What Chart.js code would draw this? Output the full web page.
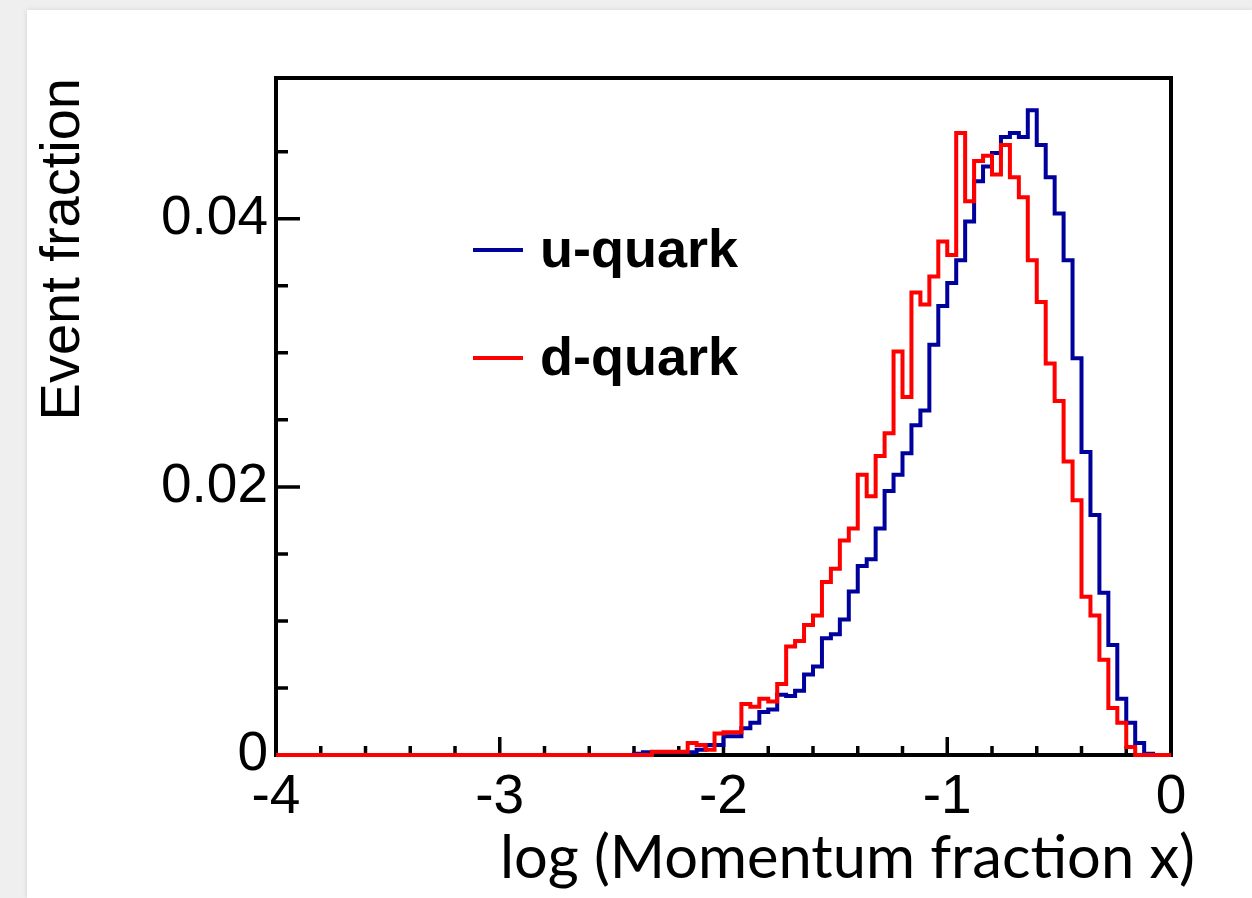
<!DOCTYPE html>
<html>
<head>
<meta charset="utf-8">
<script src="https://cdn.jsdelivr.net/npm/chart.js@4.4.1/dist/chart.umd.min.js"></script>
<style>
  html, body { margin: 0; padding: 0; background: #efefef; }
  #panel { position: absolute; left: 27px; top: 10px; right: 0; bottom: 0; background: #fff; box-shadow: 0 0 5px rgba(0,0,0,0.12); }
  #wrap { position: absolute; left: 0; top: 0; width: 1252px; height: 898px; }
</style>
</head>
<body>
<div id="panel"></div>
<div id="wrap"><canvas id="histo" width="1252" height="898"></canvas></div>
<script>
// histogram binning: 100 bins of log10(x) from -4 to 0
const binLow = -4;
const binWidth = 0.04;

// event fraction per bin
const uQuark = [
  0, 0, 0, 0, 0, 0, 0, 0, 0, 0,
  0, 0, 0, 0, 0, 0, 0, 0, 0, 0,
  0, 0, 0, 0, 0, 0, 0, 0, 0, 0,
  0, 0, 0, 0, 0, 0, 0, 0, 0, 0,
  0, 0.0001, 0.0002, 0.0002, 0.0002, 0.0002, 0.0002, 0.0002, 0.0004, 0.00075,
  0.00075, 0.0014, 0.0014, 0.002, 0.0024, 0.0032, 0.0034, 0.0045, 0.0044, 0.0048,
  0.006, 0.0066, 0.0087, 0.009, 0.0101, 0.0122, 0.0141, 0.0146, 0.0169, 0.0197,
  0.0209, 0.0225, 0.0246, 0.0257, 0.0306, 0.0335, 0.0352, 0.0369, 0.0398, 0.0428,
  0.0439, 0.0449, 0.0461, 0.0464, 0.0461, 0.0481, 0.0455, 0.0431, 0.0404, 0.0369,
  0.0296, 0.0226, 0.0179, 0.0121, 0.0082, 0.0042, 0.0024, 0.0009, 0.0001, 0
];
const dQuark = [
  0, 0, 0, 0, 0, 0, 0, 0, 0, 0,
  0, 0, 0, 0, 0, 0, 0, 0, 0, 0,
  0, 0, 0, 0, 0, 0, 0, 0, 0, 0,
  0, 0, 0, 0, 0, 0, 0, 0, 0, 0,
  0, 0, 0, 0.00025, 0.00025, 0.00025, 0.00025, 0.0009, 0.00075, 0.0004,
  0.0016, 0.0017, 0.0017, 0.0038, 0.0036, 0.0042, 0.004, 0.0053, 0.0081, 0.0085,
  0.0097, 0.0104, 0.0129, 0.0139, 0.016, 0.0169, 0.0209, 0.0193, 0.0223, 0.024,
  0.0301, 0.0267, 0.0345, 0.0336, 0.0357, 0.0383, 0.0373, 0.0464, 0.0413, 0.0443,
  0.0447, 0.0433, 0.0455, 0.0431, 0.0416, 0.0369, 0.0338, 0.0292, 0.0264, 0.0219,
  0.019, 0.0118, 0.0104, 0.0071, 0.0035, 0.0024, 0.0006, 0, 0, 0
];

// labelled ticks
const xMajor = [-4, -3, -2, -1, 0];
const xMajorLabels = ['-4', '-3', '-2', '-1', '0'];
const yMajor = [0, 0.02, 0.04];
const yMajorLabels = ['0', '0.02', '0.04'];

function toSteps(values) {
  const pts = values.map((v, i) => ({ x: binLow + i * binWidth, y: v }));
  pts.push({ x: binLow + values.length * binWidth, y: values[values.length - 1] });
  return pts;
}

function majorIndex(list, v) {
  return list.findIndex(m => Math.abs(m - v) < 1e-6);
}

Chart.defaults.font.family = '"Liberation Sans", Arial, sans-serif';
Chart.defaults.color = '#000';

// frame and inward tick marks, ROOT style
const frameTicks = {
  id: 'frameTicks',
  beforeDatasetsDraw(chart) {
    const { ctx, chartArea: a, scales: { x, y } } = chart;
    ctx.save();
    ctx.strokeStyle = '#000';
    ctx.lineWidth = 3.5;
    ctx.beginPath();
    x.ticks.forEach(t => {
      if (t.value < x.min - 1e-6 || t.value > x.max + 1e-6) return;
      const px = x.getPixelForValue(t.value);
      const len = majorIndex(xMajor, t.value) >= 0 ? 18 : 9;
      ctx.moveTo(px, a.bottom);
      ctx.lineTo(px, a.bottom - len);
    });
    y.ticks.forEach(t => {
      const r = t.value / 0.005;
      if (Math.abs(r - Math.round(r)) > 1e-6 || t.value > y.max) return;
      const py = y.getPixelForValue(t.value);
      const len = majorIndex(yMajor, t.value) >= 0 ? 24 : 12;
      ctx.moveTo(a.left, py);
      ctx.lineTo(a.left + len, py);
    });
    ctx.stroke();
    ctx.lineWidth = 4;
    ctx.strokeRect(a.left, a.top, a.width, a.height);
    ctx.restore();
  }
};

// legend inside the frame
const innerLegend = {
  id: 'innerLegend',
  afterDatasetsDraw(chart) {
    const { ctx, chartArea: a } = chart;
    ctx.save();
    ctx.font = 'bold 54px "Liberation Sans", Arial, sans-serif';
    ctx.textBaseline = 'middle';
    ctx.textAlign = 'left';
    const rows = [chart.data.datasets[0], chart.data.datasets[1]];
    rows.forEach((ds, i) => {
      const yy = a.top + 172 + i * 108;
      ctx.strokeStyle = ds.borderColor;
      ctx.lineWidth = 4;
      ctx.beginPath();
      ctx.moveTo(a.left + 197, yy);
      ctx.lineTo(a.left + 247, yy);
      ctx.stroke();
      ctx.fillStyle = '#000';
      ctx.fillText(ds.label, a.left + 264, yy + 2);
    });
    ctx.restore();
  }
};

// x axis title, right-aligned past the frame
const xTitle = {
  id: 'xTitle',
  afterDraw(chart) {
    const ctx = chart.ctx;
    const text = 'log (Momentum fraction x)';
    ctx.save();
    ctx.font = '56px Lato, "Open Sans", sans-serif';
    const w = ctx.measureText(text).width;
    const size = 56 * 695 / w;
    ctx.font = size.toFixed(1) + 'px Lato, "Open Sans", sans-serif';
    ctx.fillStyle = '#000';
    ctx.textAlign = 'right';
    ctx.textBaseline = 'alphabetic';
    ctx.fillText(text, 1195, 878);
    ctx.restore();
  }
};

new Chart(document.getElementById('histo'), {
  type: 'line',
  data: {
    datasets: [
      {
        label: 'u-quark',
        data: toSteps(uQuark),
        borderColor: '#00009c',
        borderWidth: 4,
        stepped: 'after',
        pointRadius: 0,
        fill: false,
        clip: false,
        order: 2
      },
      {
        label: 'd-quark',
        data: toSteps(dQuark),
        borderColor: '#ff0000',
        borderWidth: 4,
        stepped: 'after',
        pointRadius: 0,
        fill: false,
        clip: false,
        order: 1
      }
    ]
  },
  options: {
    responsive: false,
    animation: false,
    layout: { padding: { left: 30, right: 81, top: 78, bottom: 0 } },
    plugins: {
      legend: { display: false },
      tooltip: { enabled: false }
    },
    scales: {
      x: {
        type: 'linear',
        min: -4,
        max: 0,
        grid: { display: false, drawTicks: false },
        border: { display: false },
        ticks: {
          stepSize: 0.2,
          autoSkip: false,
          maxRotation: 0,
          padding: 10,
          font: { size: 55 },
          callback: v => {
            const i = majorIndex(xMajor, v);
            return i >= 0 ? xMajorLabels[i] : '';
          }
        },
        afterFit: s => { s.height = 143; }
      },
      y: {
        min: 0,
        max: 0.0505,
        grid: { display: false, drawTicks: false },
        border: { display: false },
        ticks: {
          stepSize: 0.005,
          autoSkip: false,
          padding: 8,
          font: { size: 55 },
          callback: v => {
            const i = majorIndex(yMajor, v);
            return i >= 0 ? yMajorLabels[i] : '';
          }
        },
        title: {
          display: true,
          text: 'Event fraction',
          align: 'end',
          padding: 0,
          font: { size: 56 }
        },
        afterFit: s => { s.width = 246; }
      }
    }
  },
  plugins: [frameTicks, innerLegend, xTitle]
});
</script>
</body>
</html>
